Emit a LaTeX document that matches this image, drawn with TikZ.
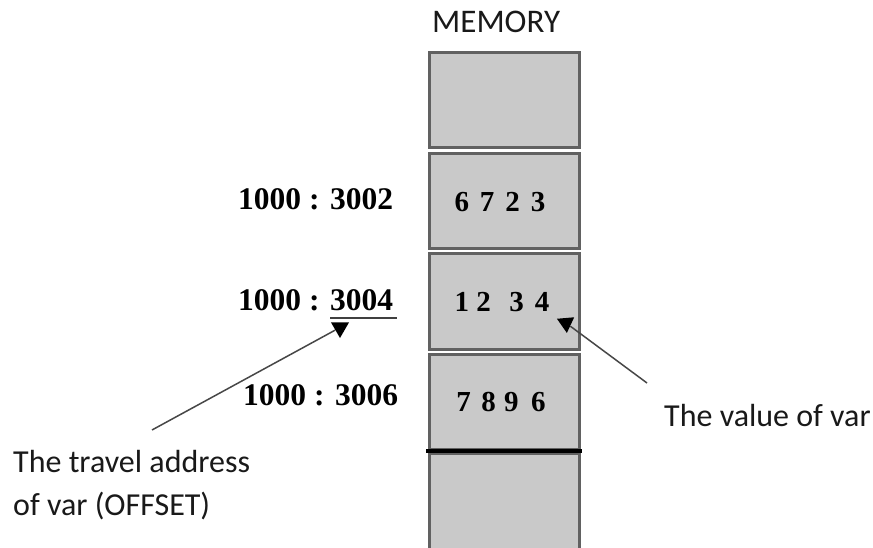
\documentclass[tikz,border=0pt]{standalone}
\usepackage{fontspec}
\setmainfont{Carlito}
\newfontfamily\numfont{Liberation Serif}
\usetikzlibrary{shapes.geometric,calc}

\begin{document}
\begin{tikzpicture}[x=1pt,y=-1pt,
  cell/.style={draw=black!62,line width=3pt,fill=black!21,rectangle,
    minimum width=150pt,minimum height=95pt,inner sep=0pt,anchor=north west},
  celltext/.style={font=\numfont\bfseries\fontsize{29}{34}\selectfont,inner sep=0pt,anchor=base},
  addr/.style={font=\numfont\bfseries\fontsize{31.5}{36}\selectfont,inner sep=0pt,anchor=base west},
  note/.style={font=\fontsize{32}{43}\selectfont,inner sep=0pt,text=black!90},
  tiphead/.style={regular polygon,regular polygon sides=3,fill=black,inner sep=0pt,
    minimum size=21pt,shape border rotate=180},
  pointer/.style={draw=black!72,line width=1.5pt},
  sepline/.style={draw=black,line width=3.5pt}]

\useasboundingbox (0,0) rectangle (873,548);

% memory column
\node[font=\fontsize{33}{38}\selectfont,anchor=base west,inner sep=0pt,text=black!90] (title) at (432,33) {MEMORY};
\node[cell] (m1) at (427.5,51) {};
\node[cell] (m2) at (427.5,152) {};
\node[cell] (m3) at (427.5,252.5) {};
\node[cell] (m4) at (427.5,353) {};
\node[cell,minimum height=110pt] (m5) at (427.5,452) {};
\draw[sepline] ($(m5.north west)+(-1.5,-1)$) -- ($(m5.north east)+(1.5,-1)$);

% cell contents
\node[celltext] (v2) at (500,212) {6\hspace{11pt}7\hspace{11pt}2\hspace{11pt}3};
\node[celltext] (v3) at (502,311) {1\hspace{7.5pt}2\hspace{18.5pt}3\hspace{11pt}4};
\node[celltext] (v4) at (501,411) {7\hspace{10.5pt}8\hspace{8.5pt}9\hspace{12.5pt}6};

% segment : offset addresses
\node[addr] (a2) at (238,210) {1000 : 3002};
\node[addr] (a3) at (238,310) {1000 : 3004};
\node[addr] (a4) at (243,405) {1000 : 3006};
\draw[line width=2pt,draw=black!75] ($(a3.base east)+(-63,8)$) -- ($(a3.base east)+(4,8)$);

% annotations
\node[note,anchor=base west] (valnote) at (664,426) {The value of var};
\node[note,anchor=base west,align=left] (offnote) at (13,515) {The travel address\\of var (OFFSET)};

\node[tiphead] (tipA) at (340,327.5) {};
\node[tiphead,minimum size=20pt,shape border rotate=185] (tipB) at (566,323) {};
\coordinate (offstart) at (152,430);
\coordinate (valstart) at (647,383);
\draw[pointer] (offstart) -- (tipA);
\draw[pointer] (valstart) -- (tipB);
\end{tikzpicture}
\end{document}
